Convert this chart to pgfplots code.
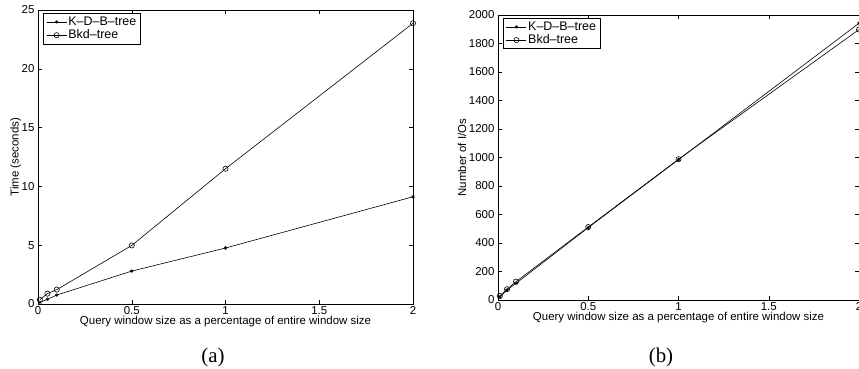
\documentclass[border=0pt]{standalone}
\usepackage{fontspec}
\setmainfont{Liberation Sans}
\newfontfamily\capfont{Liberation Serif}
\usepackage{pgfplots}
\pgfplotsset{compat=1.18}
\pgfplotsset{
  mystyle/.style={
    scale only axis,
    anchor=south west,
    xmin=0, xmax=2,
    xtick={0,0.5,1,1.5,2},
    xticklabels={0,0.5,1,1.5,2},
    /pgf/number format/assume math mode=true,
    tick align=inside,
    major tick length=4bp,
    tick style={black, line width=0.5pt},
    axis line style={line width=0.8pt},
    every axis plot/.append style={black, line width=0.6pt},
    tick label style={font=\fontsize{11.5}{12}\selectfont},
    label style={font=\fontsize{11.5}{12}\selectfont},
    xlabel={Query window size as a percentage of entire window size},
    xlabel style={yshift=5bp},
    xticklabel style={yshift=1bp},
    legend style={at={(0.013,0.99)}, anchor=north west,
      draw=black, line width=0.9pt, inner xsep=3bp, inner ysep=2bp, row sep=0bp,
      nodes={inner sep=1.5bp, font=\fontsize{12.5}{13}\selectfont}},
    legend cell align=left,
    legend image code/.code={\draw[line width=0.6pt,mark repeat=2,mark phase=2] plot coordinates {(0bp,0bp) (10bp,0bp) (20bp,0bp)};},
  }
}
\begin{document}
\begin{tikzpicture}[x=1bp,y=1bp]
\begin{axis}[mystyle,
  at={(38bp,65bp)}, width=375bp, height=294bp,
  ymin=0, ymax=25, ytick={0,5,10,15,20,25},
  ylabel={Time (seconds)}, ylabel style={yshift=-6bp},
]
\addplot[mark=asterisk, mark size=1.8bp] coordinates {
  (0.01,0.13) (0.05,0.40) (0.1,0.76) (0.5,2.80) (1,4.76) (2,9.12)};
\addlegendentry{K--D--B--tree}
\addplot[mark=o, mark size=2.6bp] coordinates {
  (0.01,0.37) (0.05,0.88) (0.1,1.22) (0.5,4.98) (1,11.5) (2,23.87)};
\addlegendentry{Bkd--tree}
\end{axis}
\begin{axis}[mystyle,
  at={(498bp,69bp)}, width=361bp, height=285bp,
  ymin=0, ymax=2000, ytick={0,200,...,2000},
  ylabel={Number of I/Os}, ylabel style={yshift=-4bp},
  yticklabel style={/pgf/number format/.cd, fixed, 1000 sep={}},
]
\addplot[mark=asterisk, mark size=1.8bp] coordinates {
  (0.01,22) (0.05,70) (0.1,117) (0.5,508) (1,985) (2,1942)};
\addlegendentry{K--D--B--tree}
\addplot[mark=o, mark size=2.6bp] coordinates {
  (0.01,28) (0.05,76) (0.1,129) (0.5,512) (1,988) (2,1898)};
\addlegendentry{Bkd--tree}
\end{axis}
\node[font=\capfont\fontsize{21}{22}\selectfont] at (213bp,12bp) {(a)};
\node[font=\capfont\fontsize{21}{22}\selectfont] at (661bp,12bp) {(b)};
\pgfresetboundingbox
\path[use as bounding box] (0,0) rectangle (859bp,369bp);
\end{tikzpicture}
\end{document}
